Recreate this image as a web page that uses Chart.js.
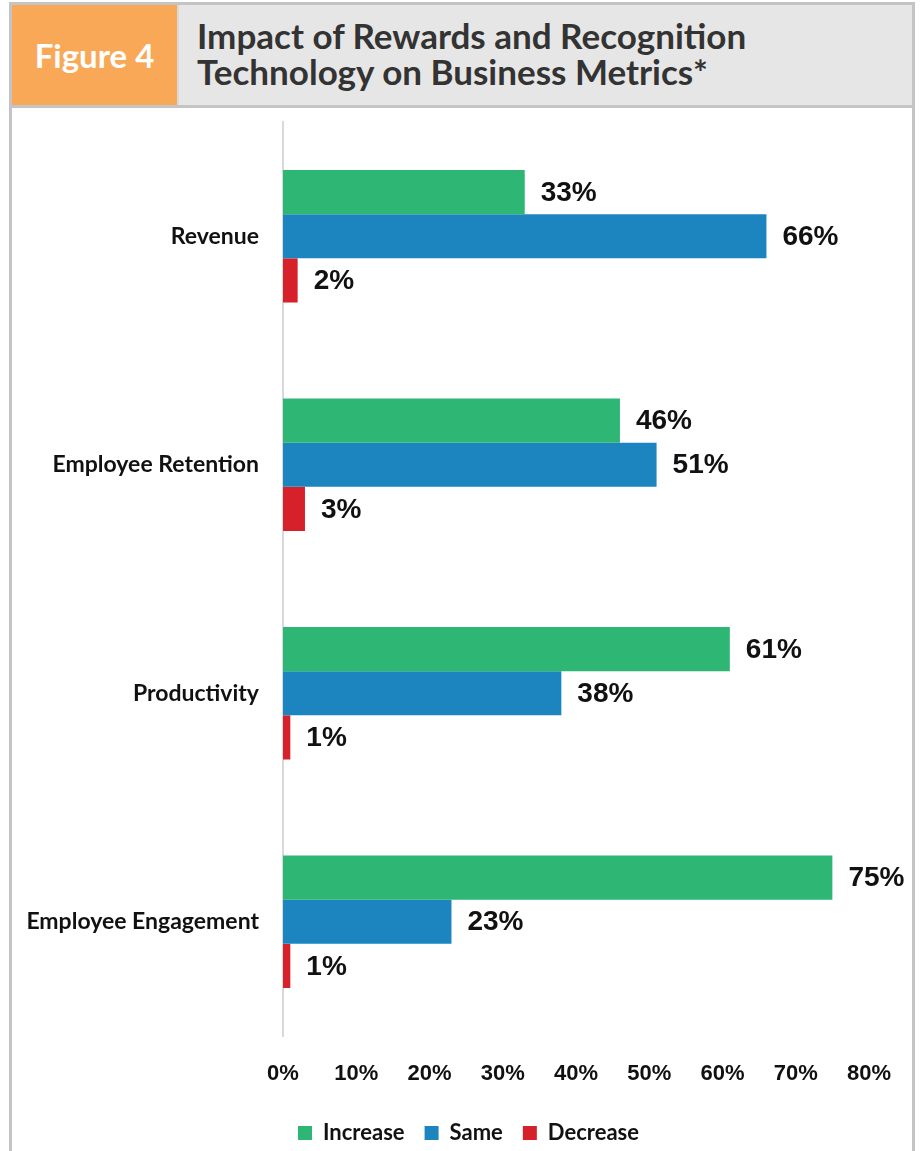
<!DOCTYPE html>
<html>
<head>
<meta charset="utf-8">
<script src="https://cdn.jsdelivr.net/npm/chart.js@4.4.1/dist/chart.umd.min.js"></script>
<style>
  body { margin: 0; background: #fff; }
  #frame {
    position: absolute; left: 9px; top: 2px; width: 906px; height: 1170px;
    border: 3px solid #c4c4c4; box-sizing: border-box;
  }
  #header {
    position: absolute; left: 0; top: 0; right: 0; height: 100px;
    background: #e6e6e6; border-bottom: 3px solid #c4c4c4;
  }
  #fig {
    position: absolute; left: 0; top: 0; width: 165px; height: 100px;
    background: #f9a857; border-right: 2px solid #d9d9d9;
    color: #fff; font: bold 33px Lato, sans-serif;
    display: flex; align-items: center; justify-content: center;
  }
  #title {
    position: absolute; left: 185px; top: 12px;
    color: #333; font: bold 35px Lato, sans-serif; line-height: 36px;
  }
  #chartBox { position: absolute; left: 12px; top: 88px; width: 900px; height: 1063px; }
</style>
</head>
<body>
<div id="frame">
  <div id="header">
    <div id="fig">Figure 4</div>
    <div id="title">Impact of Rewards and Recognition<br>Technology on Business Metrics*</div>
  </div>
</div>
<div id="chartBox"><canvas id="chart"></canvas></div>

<script>
// ---------------------- DATA ---------------------
const categories = ["Revenue", "Employee Retention", "Productivity", "Employee Engagement"];
const increase = [33, 46, 61, 75];
const same = [66, 51, 38, 23];
const decrease = [2, 3, 1, 1];
const tickValues = [0, 10, 20, 30, 40, 50, 60, 70, 80];

// labels at the end of every bar
const barLabels = {
  id: "barLabels",
  afterDatasetsDraw(chart) {
    const ctx = chart.ctx;
    ctx.save();
    ctx.font = "bold 28px 'Liberation Sans', Arial, sans-serif";
    ctx.fillStyle = "#111";
    ctx.textBaseline = "middle";
    chart.data.datasets.forEach(function (ds, i) {
      chart.getDatasetMeta(i).data.forEach(function (bar, j) {
        ctx.fillText(ds.data[j] + "%", bar.x + 16, bar.y + 1);
      });
    });
    ctx.restore();
  }
};

// nudge the legend under the middle of the frame
const legendShift = {
  id: "legendShift",
  afterLayout(chart) {
    const l = chart.legend;
    l.left += 28; l.right += 28;
    l.top += 3; l.bottom += 3;
  }
};

new Chart(document.getElementById("chart"), {
  type: "bar",
  data: {
    labels: categories,
    datasets: [
      { label: "Increase", data: increase, backgroundColor: "#2db674" },
      { label: "Same", data: same, backgroundColor: "#1c84bf" },
      { label: "Decrease", data: decrease, backgroundColor: "#d7212a" }
    ]
  },
  options: {
    indexAxis: "y",
    responsive: true,
    maintainAspectRatio: false,
    animation: false,
    layout: { autoPadding: false, padding: { top: 34, right: 43, bottom: 0, left: 0 } },
    datasets: { bar: { categoryPercentage: 0.58, barPercentage: 1.0 } },
    scales: {
      x: {
        min: 0, max: 80,
        afterBuildTicks(scale) { scale.ticks = tickValues.map(v => ({ value: v })); },
        afterFit(scale) { scale.height = 63; },
        grid: { display: false },
        border: { display: false },
        ticks: {
          padding: 17,
          color: "#111",
          font: { family: "'Liberation Sans', Arial, sans-serif", size: 22, weight: "bold" },
          callback: v => v + "%"
        }
      },
      y: {
        afterFit(scale) { scale.width = 271; },
        grid: { display: false },
        border: { display: true, color: "#d9d9d9", width: 2 },
        ticks: {
          padding: 16,
          color: "#111",
          font: { family: "Lato, sans-serif", size: 23, weight: "bold" }
        }
      }
    },
    plugins: {
      legend: {
        position: "bottom",
        labels: {
          boxWidth: 14, boxHeight: 14, padding: 20,
          color: "#111",
          font: { family: "Lato, sans-serif", size: 22, weight: "bold" }
        }
      },
      tooltip: { enabled: false }
    }
  },
  plugins: [barLabels, legendShift]
});
</script>
</body>
</html>
